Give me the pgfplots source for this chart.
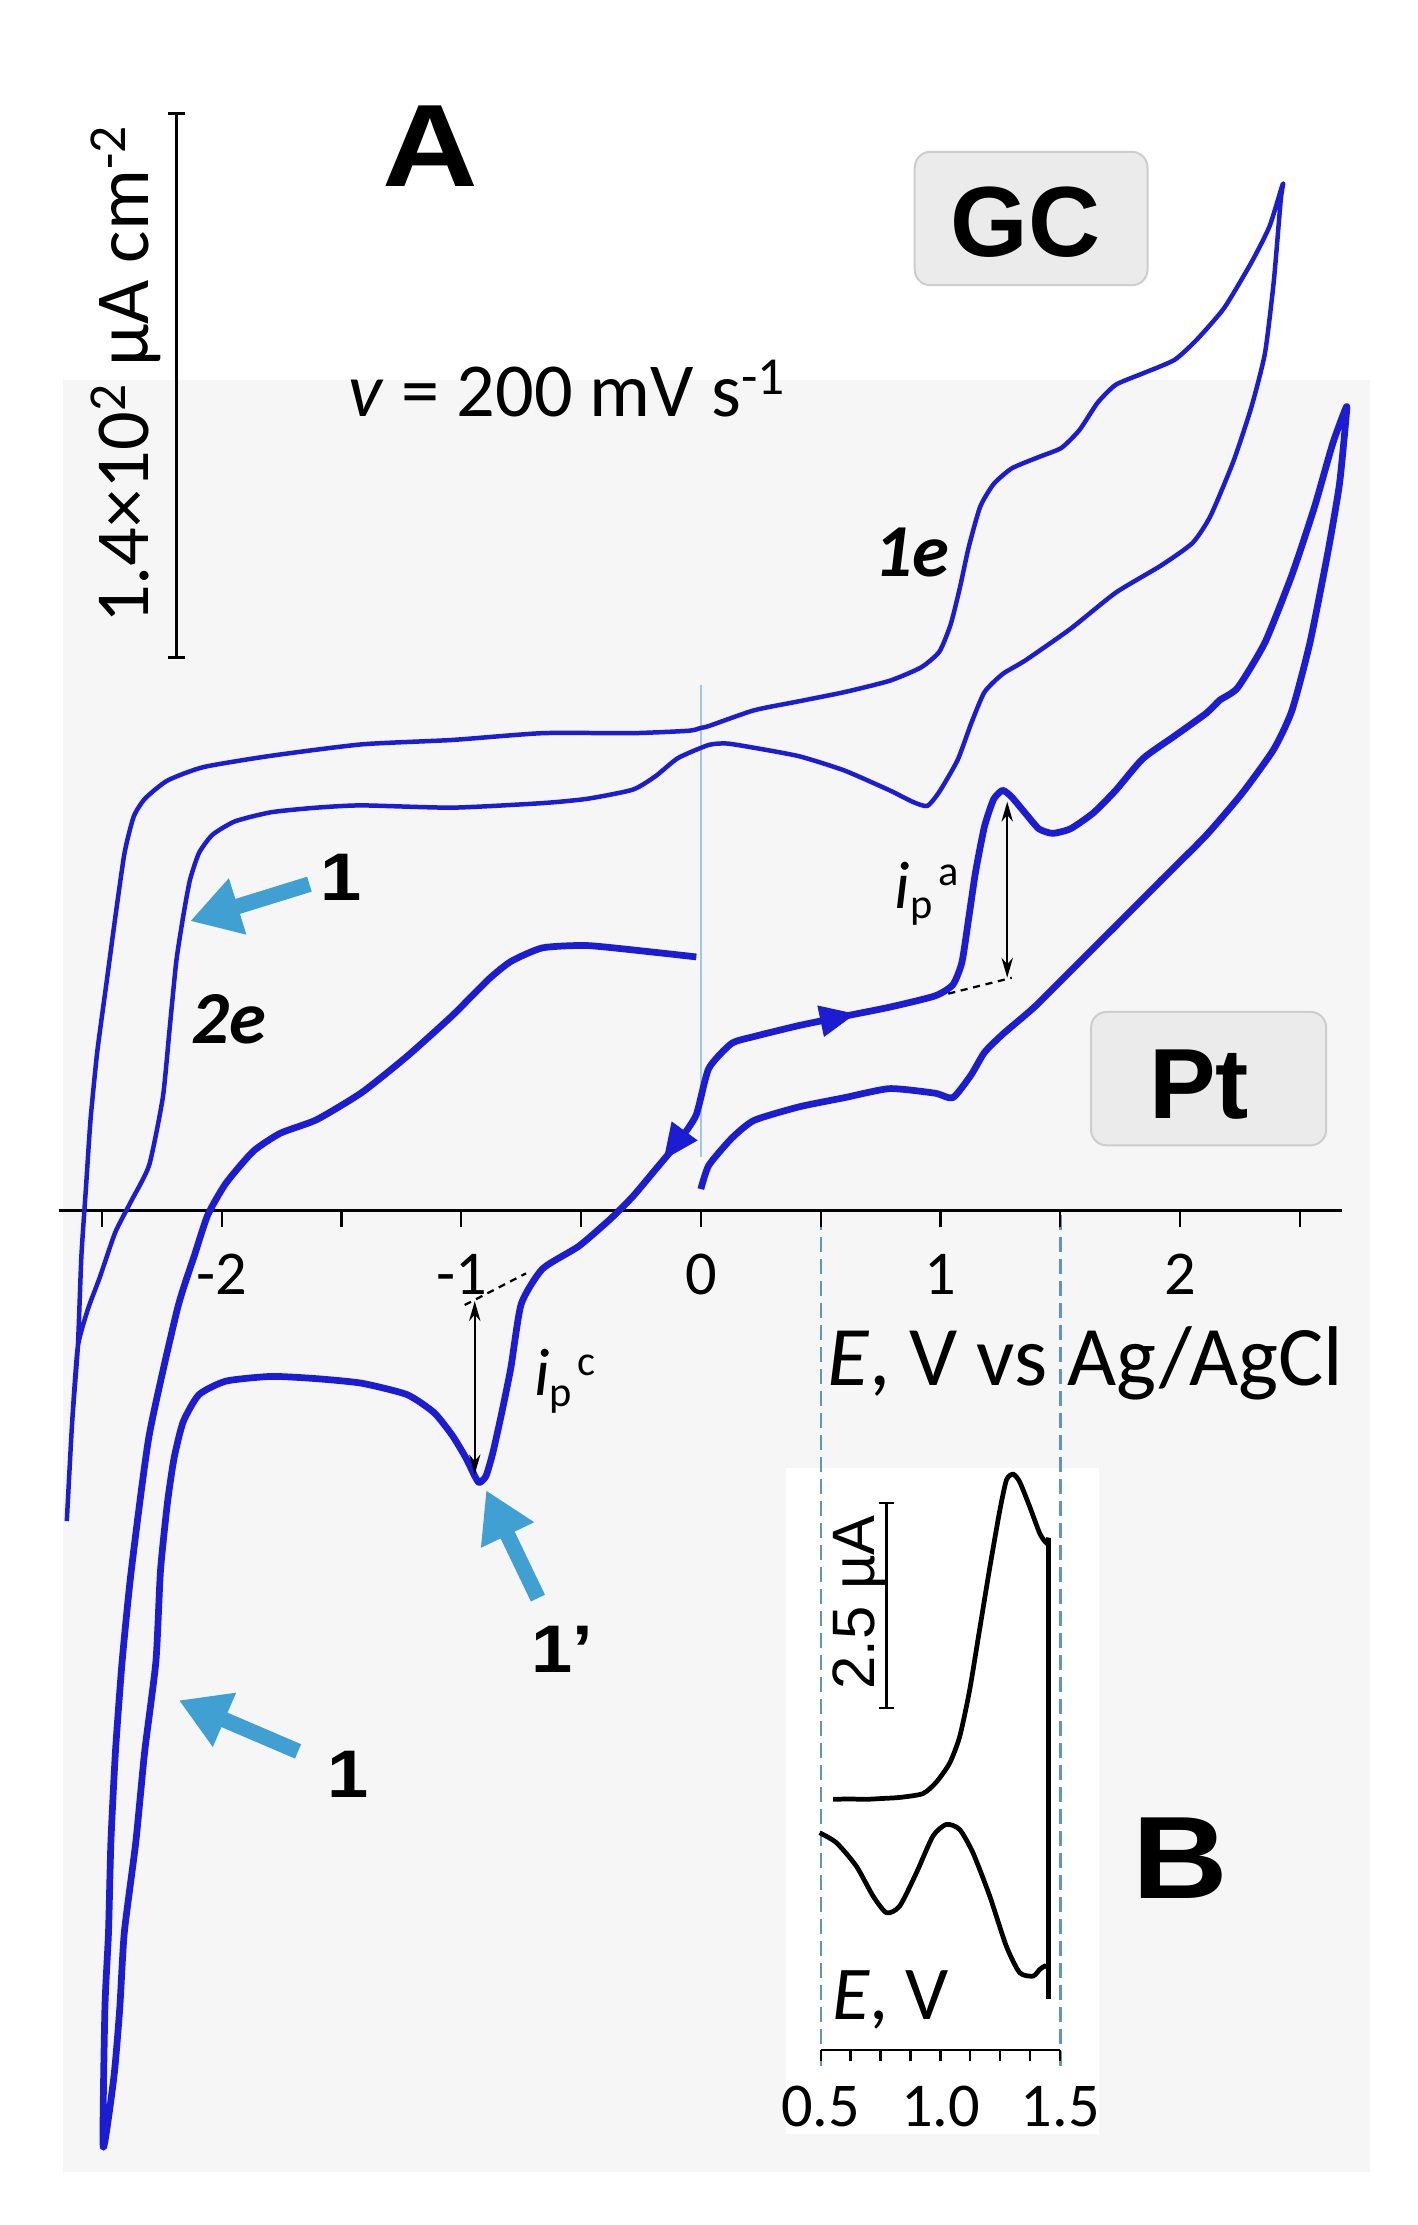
\documentclass[border=0pt]{standalone}
\usepackage{pgfplots}
\pgfplotsset{compat=1.18}
\usetikzlibrary{arrows.meta}
\usepackage{fontspec}
\setmainfont{Carlito}
\newfontfamily\arialf{Liberation Sans}
\newfontfamily\heavyf{Liberation Sans Bold}
\definecolor{bggray}{RGB}{246,246,246}
\definecolor{boxfill}{RGB}{235,235,235}
\definecolor{boxline}{RGB}{205,205,205}
\definecolor{cvblue}{RGB}{28,28,210}
\definecolor{arrblue}{RGB}{65,160,210}
\definecolor{dashblue}{RGB}{95,150,190}
\definecolor{zeroblue}{RGB}{160,200,230}
\tikzset{px/.style={shift={(-0.827cm,31.36cm)},x=0.02cm,y=-0.02cm}}
\begin{document}
\begin{tikzpicture}
\useasboundingbox (-0.827cm,0cm) rectangle (19.153cm,31.36cm);
\begin{scope}[px]
\fill[bggray] (44.6,267.7) rectangle (965,1530);
\fill[white] (554,1034.5) rectangle (774,1503.5);
\draw[boxline, fill=boxfill, line width=0.8pt, rounded corners=0.22cm] (644.5,107) rectangle (808.5,201);
\draw[boxline, fill=boxfill, line width=0.8pt, rounded corners=0.22cm] (768.7,713) rectangle (934.4,807);
\draw[dashblue, line width=1pt, dash pattern=on 0.21cm off 0.1cm] (578.3,856) -- (578.3,1458);
\draw[dashblue, line width=1pt, dash pattern=on 0.21cm off 0.1cm] (747.1,856) -- (747.1,1458);
\draw[zeroblue, line width=0.6pt] (493.9,483) -- (493.9,815);
\end{scope}

% ---------------- main CV axis (x in V, y in display units) ----------------
\begin{axis}[
  at={(0cm,0cm)}, anchor=south west,
  scale only axis, width=18.092cm, height=31.36cm,
  xmin=-2.681, xmax=2.678, ymin=-715, ymax=853,
  axis x line=middle, axis y line=none,
  axis line style={-, line width=0.9pt, black},
  xtick={-2,-1,0,1,2}, minor xtick={-2.5,-1.5,-0.5,0.5,1.5,2.5},
  xticklabels={},
  hide obscured x ticks=false,
  tick align=outside,
  major tick length=0.24cm, minor tick length=0.24cm,
  tick style={black, line width=0.9pt},
  clip=false,
]
% GC
\addplot[cvblue, line width=1.8pt, smooth, tension=0.35, line join=round] coordinates {
(-2.647,-219) (-2.625,-150) (-2.601,-96) (-2.586,-31.7) (-2.567,16.1) (-2.548,63.9)
(-2.520,111.7) (-2.482,159.5) (-2.444,207.3) (-2.406,251.9) (-2.368,277.4) (-2.321,290.1)
(-2.227,302.9) (-2.076,312.4) (-1.793,320.4) (-1.416,328.4) (-1.038,331.5) (-0.661,336.3)
(-0.284,336.3) (-0.05,338) (0.0,340) (0.033,341.3) (0.222,352.4) (0.411,358.8) (0.599,365.2)
(0.788,373.2) (0.920,382.7) (0.996,393.8) (1.043,413) (1.081,438.5) (1.118,467.2)
(1.166,495.8) (1.222,511.8) (1.298,522.9) (1.411,530.9) (1.505,537.3) (1.581,550)
(1.656,569.1) (1.732,581.8) (1.845,589.8) (1.977,599.3) (2.071,613.7) (2.185,636)
(2.298,667.9) (2.374,693.4) (2.430,723.6) (2.421,712.4) (2.392,655) (2.355,604)
(2.298,565.9) (2.223,527.7) (2.128,489.5) (2.053,470.4) (1.921,454.4) (1.732,435.3)
(1.543,409.8) (1.354,387.5) (1.260,378) (1.184,365.2) (1.128,342.9) (1.072,317.4)
(0.996,295.1) (0.945,285) (0.883,288) (0.788,296) (0.599,310) (0.411,320) (0.222,326)
(0.109,329) (0.033,328) (-0.095,318.8) (-0.189,306) (-0.284,296.5) (-0.472,290.1)
(-0.661,287) (-1.038,283.8) (-1.416,285.4) (-1.604,283.8) (-1.793,280.6) (-1.944,274.2)
(-2.039,264.7) (-2.095,251.9) (-2.133,232.8) (-2.161,207.3) (-2.190,175.4) (-2.218,127.6)
(-2.246,79.8) (-2.303,32) (-2.378,6.6) (-2.445,-15.6) (-2.510,-47.5) (-2.558,-69.2)
(-2.601,-96) (-2.625,-150) (-2.647,-219)
};
% Pt
\addplot[cvblue, line width=2.7pt, smooth, tension=0.35, line join=round] coordinates {
(-0.019,178.6) (-0.189,181.8) (-0.472,186.6) (-0.661,185) (-0.793,175.4) (-0.887,162.7)
(-1.038,137.2) (-1.227,108.5) (-1.416,83) (-1.604,63.9) (-1.755,54.4) (-1.869,41.6)
(-1.982,19.3) (-2.058,-3) (-2.114,-31.6) (-2.185,-69.2) (-2.303,-158.4) (-2.378,-254)
(-2.416,-317.7) (-2.444,-381.5) (-2.463,-445.2) (-2.473,-508.9) (-2.488,-562.4)
(-2.495,-660) (-2.45,-610) (-2.426,-562.4) (-2.407,-508.9) (-2.359,-445.2) (-2.322,-381.5)
(-2.275,-317.7) (-2.256,-254) (-2.227,-206.2) (-2.199,-174.4) (-2.161,-148.9)
(-2.095,-129.8) (-1.982,-120.3) (-1.793,-117) (-1.604,-118.6) (-1.416,-121.8)
(-1.227,-129.8) (-1.114,-142.5) (-1.038,-158.5) (-0.981,-174.4) (-0.944,-187.2)
(-0.925,-191.9) (-0.897,-187.2) (-0.869,-171.2) (-0.831,-142.5) (-0.793,-110.7)
(-0.75,-66) (-0.661,-41.2) (-0.510,-25.3) (-0.378,-6.1) (-0.284,9.8) (-0.189,28.9)
(-0.095,48) (-0.020,67.1) (0.033,100) (0.128,117.6) (0.222,122.5) (0.411,130.3)
(0.599,136.8) (0.788,143.2) (0.977,151.1) (1.052,159) (1.090,174.9) (1.119,206.8)
(1.147,238.7) (1.184,270.5) (1.222,289.6) (1.260,296) (1.298,291.2) (1.354,280)
(1.411,268.9) (1.468,265.7) (1.543,268.9) (1.638,280) (1.732,296) (1.845,318.3)
(1.977,334.2) (2.109,350.2) (2.166,359.5) (2.241,368.3) (2.355,400.2) (2.468,448)
(2.562,495.8) (2.638,540.4) (2.694,565.9) (2.694,559.6) (2.666,511.8) (2.618,464)
(2.543,400.2) (2.468,352.4) (2.392,325) (2.260,294) (2.109,264.2) (1.920,232.3)
(1.732,200.4) (1.543,168.6) (1.392,143.2) (1.260,124.1) (1.184,111.3) (1.128,95.4)
(1.052,79.4) (0.977,82.6) (0.788,85.8) (0.599,79.4) (0.411,73) (0.222,63.4)
(0.128,50.7) (0.033,31.7) (0.0,15)
};
% scan direction arrows
\addplot[cvblue, line width=0.4pt, -{Triangle[length=0.5cm,width=0.45cm]}] coordinates {(-0.02,67) (-0.155,35.8)};
\addplot[cvblue, line width=0.4pt, -{Triangle[length=0.5cm,width=0.45cm]}] coordinates {(0.45,131.5) (0.645,138.5)};
% peak current markers
\addplot[black, line width=0.9pt, {Stealth[length=0.28cm,width=0.16cm]}-{Stealth[length=0.28cm,width=0.16cm]}] coordinates {(1.279,288) (1.279,164)};
\addplot[black, line width=0.9pt, dash pattern=on 0.1cm off 0.08cm] coordinates {(1.033,152.7) (1.298,163.9)};
\addplot[black, line width=0.9pt, {Stealth[length=0.28cm,width=0.16cm]}-{Stealth[length=0.28cm,width=0.16cm]}] coordinates {(-0.944,-64) (-0.944,-186)};
\addplot[black, line width=0.9pt, dash pattern=on 0.1cm off 0.08cm] coordinates {(-0.986,-66.7) (-0.730,-44.4)};
\end{axis}

% ---------------- inset B ----------------
\begin{axis}[
  at={(10.739cm,2.468cm)}, anchor=south west,
  scale only axis, width=3.376cm, height=8.4cm,
  xmin=0.5, xmax=1.5, ymin=2, ymax=422,
  axis x line=bottom, axis y line=none,
  axis line style={-, line width=0.9pt, black},
  xtick={0.5,0.625,0.75,0.875,1,1.125,1.25,1.375,1.5},
  xticklabels={},
  tick align=outside, major tick length=0.16cm,
  tick style={black, line width=0.9pt},
  clip=false,
]
\addplot[black, line width=1.9pt, smooth, tension=0.4] coordinates {
(0.552,178.6) (0.62,178.8) (0.691,178.6) (0.76,179.2) (0.830,179.9) (0.927,182.6)
(0.983,190.7) (1.039,204.2) (1.081,223) (1.122,255.4) (1.164,298.5) (1.206,341.7)
(1.248,382.1) (1.276,403.7) (1.304,407.7) (1.331,402.3) (1.373,384.8) (1.415,365.9)
(1.443,359.2) (1.452,363)
};
\addplot[black, line width=1.9pt] coordinates {(1.452,363) (1.452,37.6)};
\addplot[black, line width=1.9pt, smooth, tension=0.4] coordinates {
(0.496,155) (0.566,148) (0.649,131.5) (0.719,110.4) (0.775,98.6) (0.830,103.3)
(0.900,126.8) (0.969,152.7) (1.025,160.9) (1.080,157.4) (1.136,140.9) (1.206,110.4)
(1.275,75.2) (1.331,56.4) (1.387,54) (1.415,58.7) (1.436,61.1) (1.452,60)
};
\end{axis}

% ---------------- annotations ----------------
\begin{scope}[px]
\tikzset{every node/.style={inner sep=0pt}}
\node[font=\heavyf\fontsize{47}{47}\selectfont] at (303,103.3) {\scalebox{1.13}[1]{A}};
\node[font=\heavyf\fontsize{47}{47}\selectfont] at (831.5,1309) {\scalebox{1.13}[1]{B}};
\node[font=\arialf\bfseries\fontsize{40}{40}\selectfont] at (722.5,156.5) {GC};
\node[font=\arialf\bfseries\fontsize{40}{40}\selectfont] at (845,764) {Pt};
% blue arrows
\draw[arrblue, line width=0.22cm, -{Triangle[length=0.7cm,width=0.78cm]}] (218,623) -- (134,649);
\draw[arrblue, line width=0.22cm, -{Triangle[length=0.7cm,width=0.78cm]}] (210,1234) -- (126,1198);
\draw[arrblue, line width=0.22cm, -{Triangle[length=0.7cm,width=0.78cm]}] (379,1126) -- (342.5,1050);
\node[font=\heavyf\fontsize{27}{27}\selectfont] at (240.5,618) {\scalebox{1.1}[1]{1}};
\node[font=\heavyf\fontsize{27}{27}\selectfont] at (245,1250) {\scalebox{1.1}[1]{1}};
\node[font=\heavyf\fontsize{27}{27}\selectfont] at (396,1162) {\scalebox{1.1}[1]{1’}};
\node[font=\bfseries\itshape\fontsize{30}{30}\selectfont] at (642.8,389) {1e};
\node[font=\bfseries\itshape\fontsize{30}{30}\selectfont] at (161,718) {2e};
% texts
\node[anchor=base west, font=\fontsize{30.6}{30.6}\selectfont] at (245.3,293.6) {\textit{v} = 200 mV s\textsuperscript{-1}};
\node[rotate=90, anchor=base west, font=\fontsize{30.6}{30.6}\selectfont] at (104.5,440) {1.4×10\textsuperscript{2} µA cm\textsuperscript{-2}};
\draw[line width=1.1pt] (124.5,79.8) -- (124.5,463.5);
\draw[line width=1.1pt] (118.5,79.8) -- (130.5,79.8);
\draw[line width=1.1pt] (118.5,463.5) -- (130.5,463.5);
\foreach \xx/\lab in {156.3/-2,325.1/-1,493.9/0,662.7/1,831.5/2}
  \node[anchor=base, font=\fontsize{25}{25}\selectfont] at (\xx,912) {\lab};
\node[anchor=base west, font=\fontsize{34}{34}\selectfont] at (583,976) {\textit{E}, V vs Ag/AgCl};
\node[anchor=base west] at (630,640) {\fontsize{27}{27}\selectfont\textit{i}\raisebox{-0.14cm}{\fontsize{17}{17}\selectfont p}\hspace{0.08cm}\raisebox{0.32cm}{\fontsize{17}{17}\selectfont a}};
\node[anchor=base west] at (376,983) {\fontsize{27}{27}\selectfont\textit{i}\raisebox{-0.16cm}{\fontsize{17}{17}\selectfont p}\hspace{0.08cm}\raisebox{0.28cm}{\fontsize{17}{17}\selectfont c}};
% inset texts
\foreach \xx/\lab in {578.3/0.5,662.7/1.0,747.1/1.5}
  \node[anchor=base, font=\fontsize{25}{25}\selectfont] at (\xx,1498) {\lab};
\node[anchor=base west, font=\fontsize{30.5}{30.5}\selectfont] at (586,1423) {\textit{E}, V};
\node[rotate=90, anchor=base, font=\arialf\fontsize{24}{24}\selectfont] at (616.4,1129) {2.5 µA};
\draw[line width=0.9pt] (624.6,1059.2) -- (624.6,1203.5);
\draw[line width=0.9pt] (619.6,1059.2) -- (629.6,1059.2);
\draw[line width=0.9pt] (619.6,1203.5) -- (629.6,1203.5);
\end{scope}
\end{tikzpicture}
\end{document}
